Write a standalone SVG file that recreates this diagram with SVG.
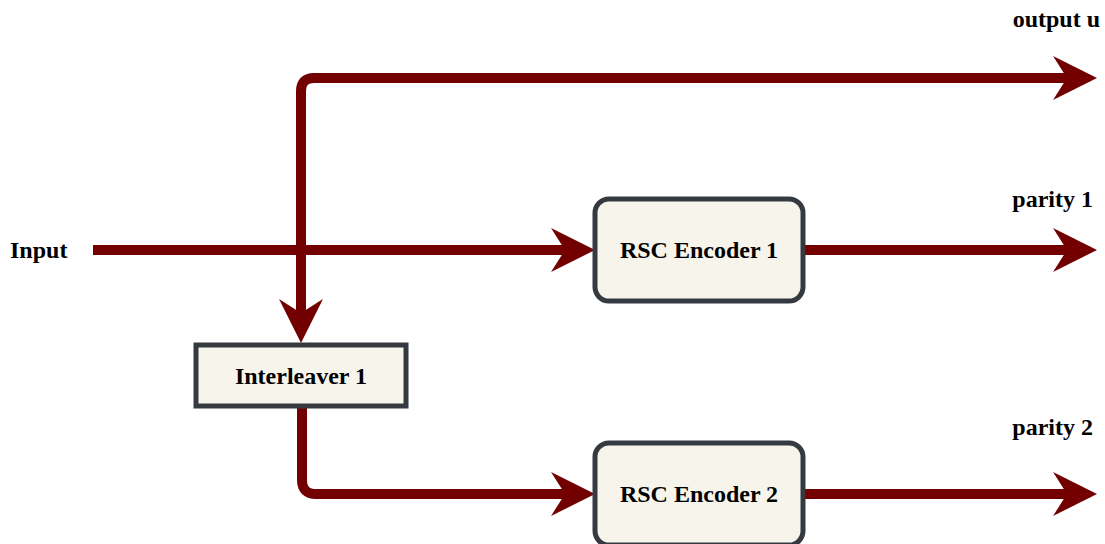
<svg xmlns="http://www.w3.org/2000/svg" width="1105" height="544" viewBox="0 0 1105 544">
<style>
.conn{fill:none;stroke:#720000;stroke-width:10;}
.box{fill:#f7f4ec;stroke:#353a40;stroke-width:5;}
.lbl{font-family:"Liberation Serif","Times New Roman",serif;font-weight:bold;font-size:24px;fill:#000;}
</style>
<defs>
<marker id="ah" viewBox="-44 -22 44 44" refX="-30" refY="0" markerWidth="44" markerHeight="44" markerUnits="userSpaceOnUse" orient="auto-start-reverse">
<path d="M0,0 L-44,-22 L-30,0 L-44,22 Z" fill="#720000"/>
</marker>
</defs>
<rect width="1105" height="544" fill="#ffffff"/>
<g id="connectors">
<path class="conn" d="M1067,78 H314 Q301,78 301,91 V313" marker-start="url(#ah)" marker-end="url(#ah)"/>
<path class="conn" d="M93,250 H565" marker-end="url(#ah)"/>
<path class="conn" d="M803,250 H1067" marker-end="url(#ah)"/>
<path class="conn" d="M302,408 V480 Q302,494 316,494 H565" marker-end="url(#ah)"/>
<path class="conn" d="M803,494 H1067" marker-end="url(#ah)"/>
</g>
<g id="rsc1">
<rect class="box" x="595" y="199" width="208" height="102" rx="14"/>
<text class="lbl" x="699" y="258" text-anchor="middle">RSC Encoder 1</text>
</g>
<g id="rsc2">
<rect class="box" x="595" y="443" width="208" height="102" rx="14"/>
<text class="lbl" x="699" y="502" text-anchor="middle">RSC Encoder 2</text>
</g>
<g id="interleaver">
<rect class="box" x="196" y="345" width="210" height="61"/>
<text class="lbl" x="301" y="384" text-anchor="middle">Interleaver 1</text>
</g>
<g id="labels">
<text class="lbl" x="10" y="258">Input</text>
<text class="lbl" x="1100" y="27" text-anchor="end">output u</text>
<text class="lbl" x="1093" y="207" text-anchor="end">parity 1</text>
<text class="lbl" x="1093" y="435" text-anchor="end">parity 2</text>
</g>
</svg>
